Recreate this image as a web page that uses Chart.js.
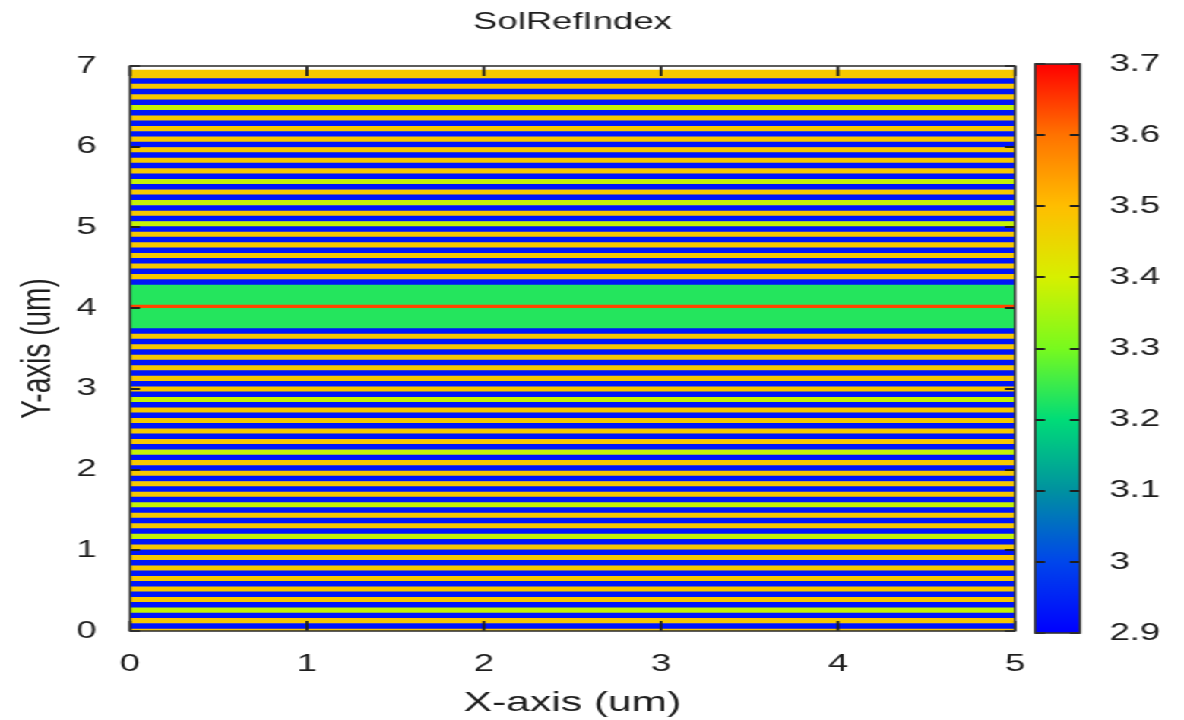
<!DOCTYPE html>
<html>
<head>
<meta charset="utf-8">
<title>SolRefIndex</title>
<script src="https://cdn.jsdelivr.net/npm/chart.js@4.4.1/dist/chart.umd.min.js"></script>
<style>
  html, body { margin: 0; padding: 0; background: #fff; overflow: hidden; }
  /* the picture is stretched sideways, so draw narrow and widen it */
  #wrap { position: relative; width: 779px; height: 720px; transform: scaleX(1.5199); transform-origin: 0 0; }
  #plot { position: absolute; left: 0; top: 0; }
  #bar { position: absolute; left: 671px; top: 0; }
</style>
</head>
<body>
<div id="wrap">
  <canvas id="plot" width="779" height="720"></canvas>
  <canvas id="bar" width="108" height="720"></canvas>
</div>
<script>
// axis ranges
const xRange = [0, 5];
const yRange = [0, 7];
const cbRange = [2.9, 3.7];

// colour bar: refractive index -> colour
const cmapValues = [2.9, 3.0, 3.1, 3.2, 3.3, 3.4, 3.5, 3.6, 3.7];
const cmapColors = ['#0000ff', '#0046eb', '#0091a0', '#00dc78', '#78fa1e', '#d7f000', '#ffbe00', '#ff7300', '#ff0000'];

// layer indices
const indexLow = 2.93;     // blue DBR layers
const indexCap = 3.48;     // yellow cap / substrate
const indexCavity = 3.23;  // green spacer
const indexWell = 3.64;    // red active layer

// thicknesses in um
const substrateThick = 0.025;
const lowThick = 0.068;
const bottomHighThick = 0.0625;
const topHighThick = 0.063;
const cavityLower = 0.25;
const wellThick = 0.04;
const cavityUpper = 0.25;
const capTop = 6.95;

// high-index layer of each mirror pair (some show up greener)
const bottomHighIndex = [
  3.48, 3.38, 3.48, 3.48, 3.48, 3.48, 3.48, 3.48, 3.38, 3.48,
  3.48, 3.38, 3.48, 3.48, 3.48, 3.48, 3.38, 3.48, 3.48, 3.48,
  3.48, 3.38, 3.48, 3.48, 3.48, 3.48, 3.48, 3.48
];
const topHighIndex = [
  3.48, 3.48, 3.48, 3.48, 3.48, 3.38, 3.48, 3.38, 3.48, 3.38,
  3.48, 3.48, 3.48, 3.48, 3.48, 3.48, 3.38, 3.48, 3.48
];

const FONT = "'Liberation Sans', Arial, sans-serif";
const INK = '#1e1e1e';

function hexRgb(h) {
  return [parseInt(h.slice(1, 3), 16), parseInt(h.slice(3, 5), 16), parseInt(h.slice(5, 7), 16)];
}
function indexColor(v) {
  if (v <= cmapValues[0]) return cmapColors[0];
  for (let i = 1; i < cmapValues.length; i++) {
    if (v <= cmapValues[i]) {
      const t = (v - cmapValues[i - 1]) / (cmapValues[i] - cmapValues[i - 1]);
      const a = hexRgb(cmapColors[i - 1]), b = hexRgb(cmapColors[i]);
      const c = a.map((x, k) => Math.round(x + (b[k] - x) * t));
      return `rgb(${c[0]},${c[1]},${c[2]})`;
    }
  }
  return cmapColors[cmapColors.length - 1];
}

// stack the layers from the substrate up
const layers = [];
let z = 0;
function addLayer(th, n) { layers.push({ y0: z, y1: z + th, n: n }); z += th; }
addLayer(substrateThick, indexCap);
bottomHighIndex.forEach(n => { addLayer(lowThick, indexLow); addLayer(bottomHighThick, n); });
addLayer(lowThick, indexLow);
addLayer(cavityLower, indexCavity);
addLayer(wellThick, indexWell);
addLayer(cavityUpper, indexCavity);
addLayer(lowThick, indexLow);
topHighIndex.forEach(n => { addLayer(topHighThick, n); addLayer(lowThick, indexLow); });
addLayer(capTop - z, indexCap);

//inward ticks and box, drawn after everything
const boxTicks = {
  id: 'boxTicks',
  afterDraw(chart, args, opts) {
    const { ctx, chartArea: a } = chart;
    ctx.save();
    ctx.strokeStyle = INK;
    ctx.lineWidth = 1.8;
    ctx.beginPath();
    (opts.x ? chart.scales[opts.x].ticks : []).forEach(t => {
      const px = chart.scales[opts.x].getPixelForValue(t.value);
      ctx.moveTo(px, a.bottom); ctx.lineTo(px, a.bottom - opts.lenX);
      ctx.moveTo(px, a.top); ctx.lineTo(px, a.top + opts.lenX);
    });
    chart.scales[opts.y].ticks.forEach(t => {
      const py = Math.round(chart.scales[opts.y].getPixelForValue(t.value));
      ctx.moveTo(a.left, py); ctx.lineTo(a.left + opts.lenY, py);
      ctx.moveTo(a.right, py); ctx.lineTo(a.right - opts.lenY, py);
    });
    ctx.stroke();
    ctx.strokeStyle = '#333';
    ctx.lineWidth = 1.6;
    ctx.strokeRect(a.left, a.top, a.right - a.left, a.bottom - a.top);
    ctx.restore();
  }
};

Chart.defaults.font.family = FONT;
Chart.defaults.color = INK;

new Chart(document.getElementById('plot'), {
  type: 'bar',
  plugins: [boxTicks],
  data: {
    labels: ['stack'],
    datasets: layers.map(l => ({
      data: [[l.y0, l.y1]],
      backgroundColor: indexColor(l.n),
      borderWidth: 0,
      grouped: false,
      barPercentage: 1,
      categoryPercentage: 1,
      xAxisID: 'xc',
      yAxisID: 'y'
    }))
  },
  options: {
    responsive: false,
    animation: false,
    layout: { padding: { left: 8, right: 111.2, top: 0, bottom: 0 } },
    plugins: {
      legend: { display: false },
      tooltip: { enabled: false },
      title: {
        display: true,
        fullSize: false,
        text: 'SolRefIndex',
        color: INK,
        font: { size: 24, weight: 'normal' },
        padding: { top: 7.6, bottom: 29.6 }
      },
      boxTicks: { x: 'x', y: 'y', lenX: 10, lenY: 6.6 }
    },
    scales: {
      xc: { type: 'category', display: false },
      x: {
        type: 'linear',
        position: 'bottom',
        offset: false,
        min: xRange[0], max: xRange[1],
        ticks: { stepSize: 1, padding: 19, font: { size: 24 } },
        grid: { display: false, drawTicks: false },
        border: { display: false },
        title: { display: true, text: 'X-axis (um)', font: { size: 28 }, padding: 0 },
        afterFit: s => { s.height = 89; }
      },
      y: {
        type: 'linear',
        offset: false,
        min: yRange[0], max: yRange[1],
        ticks: { stepSize: 1, padding: 22, font: { size: 24 } },
        grid: { display: false, drawTicks: false },
        border: { display: false },
        title: { display: true, text: 'Y-axis (um)', font: { size: 28 }, padding: 0 },
        afterFit: s => { s.width = 77.5; }
      }
    }
  }
});

// colour bar
new Chart(document.getElementById('bar'), {
  type: 'bar',
  plugins: [boxTicks],
  data: {
    labels: ['cb'],
    datasets: [{
      data: [[cbRange[0], cbRange[1]]],
      backgroundColor: c => {
        const area = c.chart.chartArea;
        if (!area) return cmapColors[0];
        const g = c.chart.ctx.createLinearGradient(0, area.bottom, 0, area.top);
        cmapValues.forEach((v, i) => g.addColorStop((v - cbRange[0]) / (cbRange[1] - cbRange[0]), cmapColors[i]));
        return g;
      },
      borderWidth: 0,
      barPercentage: 1,
      categoryPercentage: 1
    }]
  },
  options: {
    responsive: false,
    animation: false,
    layout: { padding: { left: 10, right: 0, top: 64, bottom: 87 } },
    plugins: {
      legend: { display: false },
      tooltip: { enabled: false },
      boxTicks: { x: null, y: 'y', lenX: 0, lenY: 6.6 }
    },
    scales: {
      x: { display: false },
      y: {
        position: 'right',
        min: cbRange[0], max: cbRange[1],
        ticks: {
          stepSize: 0.1,
          padding: 19.5,
          font: { size: 24 },
          callback: v => String(parseFloat(Number(v).toFixed(1)))
        },
        grid: { display: false, drawTicks: false },
        border: { display: false },
        afterFit: s => { s.width = 68.5; }
      }
    }
  }
});
</script>
</body>
</html>
